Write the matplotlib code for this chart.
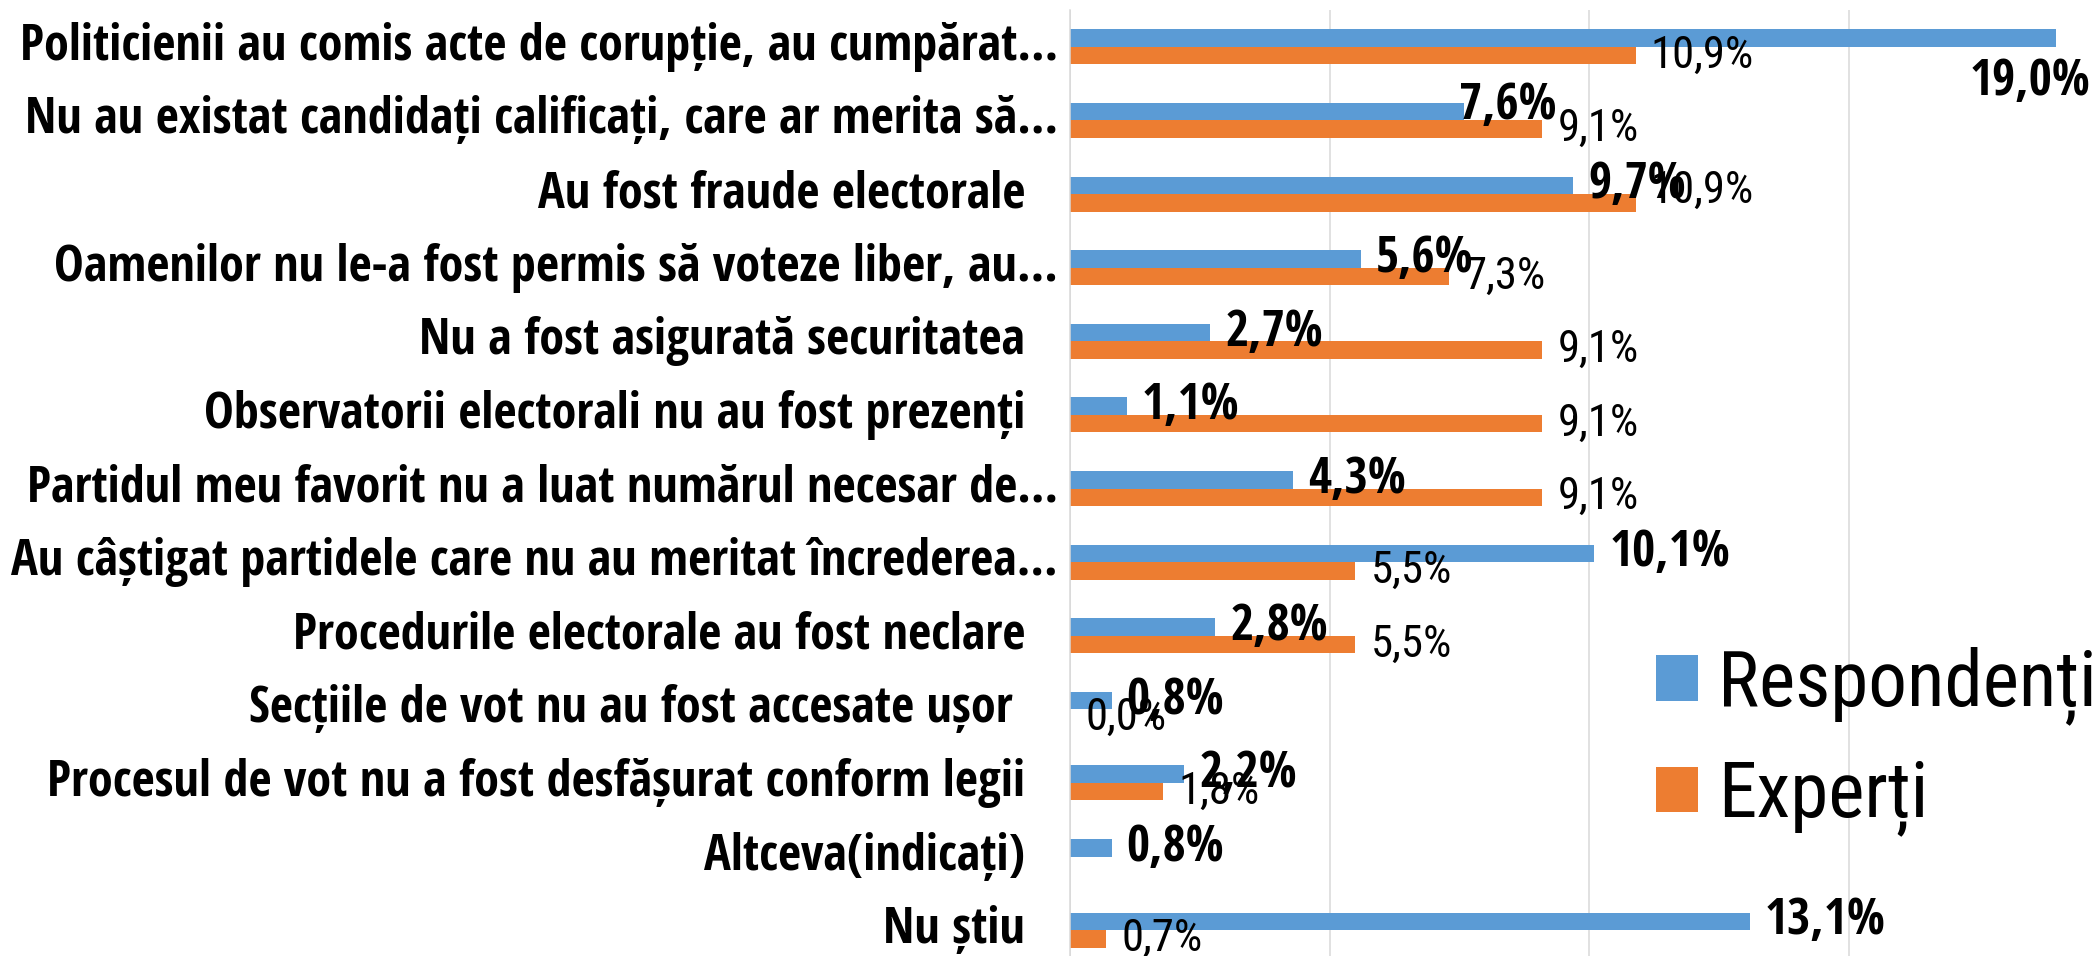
import numpy as np
import matplotlib
matplotlib.use('Agg')
from matplotlib import pyplot as plt
from matplotlib import font_manager
from matplotlib.font_manager import FontProperties
from matplotlib.textpath import TextPath

# DATE

categorii = [
    'Politicienii au comis acte de corupție, au cumpărat…',
    'Nu au existat candidați calificați, care ar merita să…',
    'Au fost fraude electorale',
    'Oamenilor nu le-a fost permis să voteze liber, au…',
    'Nu a fost asigurată securitatea',
    'Observatorii electorali nu au fost prezenți',
    'Partidul meu favorit nu a luat numărul necesar de…',
    'Au câștigat partidele care nu au meritat încrederea…',
    'Procedurile electorale au fost neclare',
    'Secțiile de vot nu au fost accesate ușor ',
    'Procesul de vot nu a fost desfășurat conform legii',
    'Altceva(indicați)',
    'Nu știu',
]
respondenti = [19.0, 7.6, 9.7, 5.6, 2.7, 1.1, 4.3, 10.1, 2.8, 0.8, 2.2, 0.8, 13.1]
experti = [10.9, 9.1, 10.9, 7.3, 9.1, 9.1, 9.1, 5.5, 5.5, 0.0, 1.8, np.nan, 0.7]
serii = ('Respondenți', 'Experți')
culori = ('#5B9BD5', '#ED7D31')

# etichete mutate manual in original (serie, index): (dx px, dy px, in jos pozitiv)
deplasari = {(0, 0): (-101, 44), (0, 1): (-20, -6), (1, 2): (0, -12)}

# FONTURI - ceva ingust, gen Calibri (bold si normal pot fi familii diferite)


def greutate_num(w):
    return font_manager.weight_dict.get(w, 400) if isinstance(w, str) else int(w)


def alege(candidati, greutate):
    for nume in candidati:
        for f in font_manager.fontManager.ttflist:
            if f.name == nume and abs(greutate_num(f.weight) - greutate) <= 50 and f.style == 'normal':
                return nume
    return 'DejaVu Sans'


FONT_B = alege(('Liberation Sans Narrow', 'Open Sans Condensed', 'Roboto Condensed', 'Lato'), 700)
FONT_R = alege(('Liberation Sans Narrow', 'Roboto Condensed', 'Open Sans Condensed', 'Lato'), 400)
plt.rcParams['font.family'] = [FONT_R, 'DejaVu Sans']


def marime(text, latime_px, familie, weight='normal'):
    # marimea fontului (pt) ca textul sa aiba latimea data in pixeli la dpi 100
    fp = FontProperties(family=familie, weight=weight)
    w = TextPath((0, 0), text, size=100, prop=fp).get_extents().width
    return 100 * latime_px * 0.72 / w


fs_cat = marime(categorii[0], 1031, FONT_B, 'bold')
fs_r = marime('19,0%', 117, FONT_B, 'bold')
fs_e = marime('10,9%', 98, FONT_R)
fs_leg = marime('Respondenți', 368, FONT_R)

# PLOT

W, H = 2099, 956
fig = plt.figure(figsize=(W / 100, H / 100), dpi=100)
ax = fig.add_axes([1070 / W, 1 - 967 / H, 1038 / W, 957 / H])

y = np.arange(len(categorii))
h = 0.238
ax.barh(y - h / 2, respondenti, height=h, color=culori[0], label=serii[0], zorder=2)
ax.barh(y + h / 2, experti, height=h, color=culori[1], label=serii[1], zorder=2)

stiluri = ((respondenti, fs_r, 'bold', FONT_B), (experti, fs_e, 'normal', FONT_R))
for s, (valori, fs, greutate, familie) in enumerate(stiluri):
    for i, v in enumerate(valori):
        if np.isnan(v):
            continue
        dx, dy = deplasari.get((s, i), (0, 0))
        ax.annotate(
            '{:.1f}%'.format(v).replace('.', ','),
            xy=(v, y[i] + (h / 2 if s else -h / 2)),
            xytext=((15 + dx) * 0.72, -dy * 0.72),
            textcoords='offset points',
            ha='left', va='center',
            fontsize=fs, fontweight=greutate, family=[familie, 'DejaVu Sans'],
            zorder=5,
        )

for i, cat in enumerate(categorii):
    x_dr = 1058 if cat.endswith('…') else 1025
    ax.text((x_dr - 1070) / 1038, y[i], cat, transform=ax.get_yaxis_transform(),
            ha='right', va='center', fontsize=fs_cat, fontweight='bold',
            family=[FONT_B, 'DejaVu Sans'])

ax.set_xlim(0, 20)
ax.set_ylim(len(categorii) - 0.5, -0.5)
ax.set_xticks([0, 5, 10, 15, 20])
ax.set_yticks([])
ax.tick_params(length=0, labelbottom=False, labelleft=False)
ax.grid(axis='x', color='#D9D9D9', linewidth=1.1, zorder=0)
for lado in ('top', 'right', 'bottom'):
    ax.spines[lado].set_visible(False)
ax.spines['left'].set_color('#D9D9D9')
ax.spines['left'].set_linewidth(1.1)

px = fs_leg / 0.72
ax.legend(
    loc='center left',
    bbox_to_anchor=(1656 / W, 1 - 741.5 / H),
    bbox_transform=fig.transFigure,
    frameon=False,
    prop=FontProperties(family=[FONT_R, 'DejaVu Sans'], size=fs_leg),
    handlelength=42 / px,
    handleheight=41 / px,
    handletextpad=20 / px,
    labelspacing=(121 - 1.15 * px) / px,
    borderpad=0,
    borderaxespad=0,
)

fig.savefig('out.png', dpi=100)
